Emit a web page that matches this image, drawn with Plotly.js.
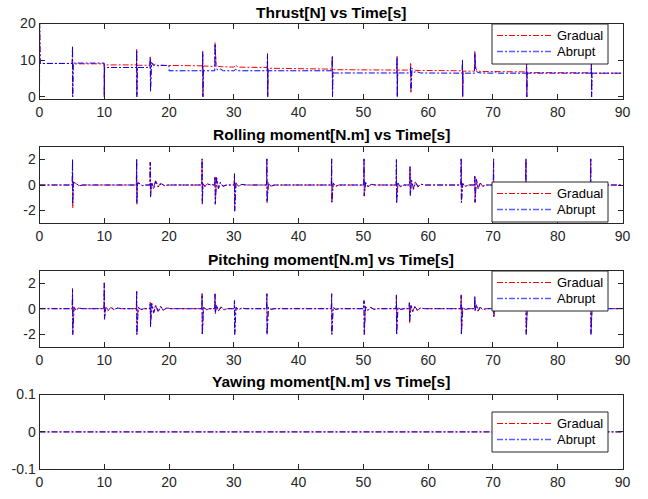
<!DOCTYPE html>
<html><head><meta charset="utf-8">
<script src="https://cdn.plot.ly/plotly-3.0.1.min.js"></script>
<style>html,body{margin:0;padding:0;background:#fff}#chart{width:648px;height:499px}</style>
</head><body><div id="chart"></div>
<script>
// ---------------- data ----------------
const seriesNames = ['Gradual', 'Abrupt'];
const panelTitles = ['Thrust[N] vs Time[s]', 'Rolling moment[N.m] vs Time[s]', 'Pitching moment[N.m] vs Time[s]', 'Yawing moment[N.m] vs Time[s]'];
const xTickVals = [0, 10, 20, 30, 40, 50, 60, 70, 80, 90];
const thrustTickVals = [0, 10, 20];
const thrustTickText = ['0', '10', '20'];
const momentTickVals = [-2, 0, 2];
const momentTickText = ['-2', '0', '2'];
const yawTickVals = [-0.1, 0, 0.1];
const yawTickText = ['-0.1', '0', '0.1'];

// Thrust - Gradual
const thrustGradT = [0,0.02,0.1, 5.05,5.1,5.12,5.2, 9.98,10.0,10.05, 14.98,15.0,15.03,15.1, 17.05,17.1,17.14,17.25,17.5,17.8, 25.15,25.2,25.23,25.3, 27.05,27.1,27.25,27.6,28.2, 30.0,30.3,30.6, 35.15,35.2,35.23,35.3, 45.15,45.2,45.23,45.3, 55.15,55.2,55.23,55.3, 57.25,57.3,57.34,57.45,57.7,58.1, 65.25,65.3,65.33,65.4, 67.15,67.2,67.35,67.7,68.2, 75.15,75.2,75.23,75.3, 85.15,85.2,85.23,85.3, 90];
const thrustGradY = [0,20,9.1, 9.1,13.8,0,9.0, 9.0,0,8.7, 8.7,13.0,0,8.6, 8.6,10.9,1.5,9.4,8.9,8.6, 8.45,12.5,0,8.4, 8.3,14.8,9.0,8.3,8.2, 8.1,8.7,8.1, 8.0,11.9,0,7.8, 7.55,11.2,0,7.4, 7.3,11.0,0,7.3, 7.3,9.1,1.2,7.8,7.5,7.2, 7.1,10.3,0,7.0, 7.0,12.5,7.6,7.0,6.9, 6.8,9.6,0,6.6, 6.55,9.3,0,6.45, 6.45];
// Thrust - Abrupt
const thrustAbrT = [0,0.02,0.1, 5.05,5.1,5.12,5.2, 9.98,10.0,10.05, 14.98,15.0,15.03,15.1, 17.05,17.1,17.14,17.3,17.6,17.9,18.3,18.7,19.99,20.0, 25.15,25.2,25.23,25.3, 27.05,27.1,27.25,27.5,27.9,28.4, 30.0,30.3,30.6, 35.15,35.2,35.23,35.3, 45.15,45.2,45.23,45.3, 55.15,55.2,55.23,55.3, 57.25,57.3,57.34,57.5,57.8,58.2,58.8, 65.25,65.3,65.33,65.4, 67.15,67.2,67.35,67.7,68.2, 70.0,70.3,70.6, 75.15,75.2,75.23,75.3, 85.15,85.2,85.23,85.3, 90];
const thrustAbrY = [0,20,9.1, 9.1,13.9,0,9.2, 9.2,0,8.0, 8.0,12.8,0,8.0, 8.0,10.8,1.6,9.3,8.5,8.9,8.4,8.6,8.5,7.1, 7.1,12.2,0,7.1, 7.1,14.5,8.0,7.3,7.6,7.1, 7.1,7.5,7.1, 7.1,11.6,0,7.1, 7.1,11.0,0,6.5, 6.5,10.8,0,6.5, 6.5,8.5,1.5,7.2,6.7,6.9,6.5, 6.45,10.0,0,6.45, 6.45,12.0,7.2,6.6,6.5, 6.45,6.9,6.45, 6.45,9.5,0,6.45, 6.45,9.2,0,6.45, 6.45];

// Rolling moment - Gradual
const rollGradT = [0, 5.05,5.1,5.13,5.2,5.4,5.7,6.0,6.5, 14.95,15.0,15.03,15.1,15.4,15.8,16.3, 17.05,17.1,17.14,17.3,17.6,17.9,18.3,18.7,19.2,19.8, 25.05,25.1,25.13,25.2,25.5,25.9,26.4, 27.05,27.1,27.14,27.3,27.6,27.9,28.3,28.8, 30.05,30.1,30.13,30.3,30.7,31.2,31.8, 35.05,35.1,35.13,35.3,35.7,36.2, 45.05,45.1,45.13,45.3,45.7,46.2, 50.05,50.1,50.13,50.3,50.7,51.2,51.7, 55.05,55.1,55.13,55.3,55.7,56.2, 57.15,57.2,57.24,57.4,57.7,58.0,58.4,58.9,59.5, 65.05,65.1,65.13,65.3,65.7,66.2, 67.15,67.2,67.24,67.4,67.7,68.0,68.4,68.9, 70.05,70.1,70.13,70.3, 75.05,75.1,75.13,75.3, 85.05,85.1,85.13,85.3, 90];
const rollGradY = [0, 0,2.05,-1.8,0.25,0.2,0.05,-0.05,0, 0,2.0,-1.5,0.2,0.15,-0.05,0, 0,1.8,-0.95,0.1,-0.3,0.35,-0.15,0.15,-0.05,0, 0,2.0,-1.5,0.1,-0.15,0.1,0, 0,0.7,-1.55,0.6,-0.3,0.2,-0.1,0, 0,0.9,-2.0,0.2,-0.1,0.05,0, 0,2.0,-1.4,0.2,-0.1,0, 0,2.0,-1.4,0.15,-0.1,0, 0,2.0,-0.9,0.2,-0.15,0.05,0, 0,1.95,-1.4,0.2,-0.15,0, 0,1.4,-0.85,0.4,-0.35,0.25,-0.15,0.05,0, 0,2.0,-1.4,0.15,-0.1,0, 0,0.7,-1.4,0.5,-0.3,0.2,-0.1,0, 0,2.0,-1.5,0, 0,2.0,-1.5,0, 0,2.0,-1.5,0, 0];
// Rolling moment - Abrupt
const rollAbrT = [0, 5.05,5.1,5.13,5.25,5.5,5.8,6.2,6.7, 14.95,15.0,15.03,15.15,15.5,15.9,16.4, 17.05,17.1,17.14,17.35,17.65,17.95,18.35,18.8,19.3,19.9, 25.05,25.1,25.13,25.25,25.55,26.0,26.5, 27.05,27.1,27.14,27.35,27.65,27.95,28.35,28.9, 30.05,30.1,30.13,30.35,30.75,31.25,31.9, 35.05,35.1,35.13,35.35,35.75,36.3, 45.05,45.1,45.13,45.35,45.75,46.3, 50.05,50.1,50.13,50.35,50.75,51.25,51.8, 55.05,55.1,55.13,55.35,55.75,56.3, 57.15,57.2,57.24,57.45,57.75,58.05,58.45,58.95,59.6, 65.05,65.1,65.13,65.35,65.75,66.3, 67.15,67.2,67.24,67.45,67.75,68.05,68.45,69.0, 70.05,70.1,70.13,70.3, 75.05,75.1,75.13,75.3, 85.05,85.1,85.13,85.3, 90];
const rollAbrY = [0, 0,2.0,-1.5,0.2,0.15,0.05,-0.05,0, 0,2.05,-1.45,0.15,0.1,-0.05,0, 0,1.75,-0.9,0.15,-0.25,0.3,-0.15,0.1,-0.05,0, 0,2.05,-1.45,0.1,-0.1,0.05,0, 0,0.65,-1.5,0.55,-0.25,0.2,-0.1,0, 0,0.85,-2.05,0.15,-0.1,0.05,0, 0,2.05,-1.35,0.15,-0.1,0, 0,2.05,-1.35,0.15,-0.1,0, 0,2.05,-0.85,0.2,-0.1,0.05,0, 0,2.0,-1.35,0.15,-0.1,0, 0,1.45,-0.8,0.35,-0.3,0.2,-0.1,0.05,0, 0,2.05,-1.35,0.1,-0.1,0, 0,0.65,-1.35,0.45,-0.25,0.15,-0.1,0, 0,2.05,-1.4,0, 0,2.05,-1.4,0, 0,2.05,-1.4,0, 0];

// Pitching moment - Gradual
const pitchGradT = [0, 5.05,5.1,5.13,5.3,5.6,6.0,6.6, 9.95,10.0,10.03,10.2,10.6,11.0,11.5,12.0,12.6, 14.95,15.0,15.03,15.2,15.6,16.1, 17.05,17.1,17.14,17.3,17.6,17.9,18.3,18.7,19.1,19.6,20.2, 25.05,25.1,25.13,25.3,25.7,26.2, 27.05,27.1,27.14,27.3,27.6,28.0,28.5,29.0, 30.05,30.1,30.13,30.3,30.7,31.2,31.8, 35.05,35.1,35.13,35.3,35.7,36.2, 45.05,45.1,45.13,45.3,45.7,46.2, 50.05,50.1,50.13,50.3,50.7,51.1,51.6,52.2, 55.05,55.1,55.13,55.3,55.7,56.2, 57.05,57.1,57.14,57.3,57.6,57.9,58.3,58.8,59.4, 65.05,65.1,65.13,65.3,65.7,66.2, 67.15,67.2,67.24,67.4,67.7,68.0,68.4,68.9, 70.05,70.1,70.13,70.3, 75.05,75.1,75.13,75.3, 85.05,85.1,85.13,85.3, 90];
const pitchGradY = [0, 0,1.6,-2.0,0.15,-0.1,0.05,0, 0,2.05,-0.85,0.1,-0.15,0.1,-0.1,0.05,0, 0,1.4,-2.0,0.1,-0.1,0, 0,0.5,-1.45,0.45,-0.35,0.3,-0.25,0.2,-0.15,0.1,0, 0,1.2,-2.0,0.1,-0.1,0, 0,1.2,-0.4,0.3,-0.2,0.15,-0.1,0, 0,0.6,-2.0,0.1,-0.1,0.05,0, 0,1.2,-2.0,0.1,-0.05,0, 0,1.2,-2.0,0.1,-0.05,0, 0,0.6,-2.0,0.2,-0.15,0.1,-0.05,0, 0,1.1,-2.0,0.1,-0.05,0, 0,0.5,-1.1,0.3,-0.25,0.2,-0.15,0.08,0, 0,1.1,-2.0,0.1,-0.05,0, 0,1.0,-0.2,0.35,-0.2,0.15,-0.1,0, 0,0.8,-0.65,0, 0,1.2,-2.0,0, 0,1.2,-2.0,0, 0];
// Pitching moment - Abrupt
const pitchAbrT = [0, 5.05,5.1,5.13,5.35,5.65,6.05,6.7, 9.95,10.0,10.03,10.25,10.65,11.05,11.55,12.05,12.7, 14.95,15.0,15.03,15.25,15.65,16.2, 17.05,17.1,17.14,17.35,17.65,17.95,18.35,18.75,19.15,19.65,20.3, 25.05,25.1,25.13,25.35,25.75,26.3, 27.05,27.1,27.14,27.35,27.65,28.05,28.55,29.1, 30.05,30.1,30.13,30.35,30.75,31.25,31.9, 35.05,35.1,35.13,35.35,35.75,36.3, 45.05,45.1,45.13,45.35,45.75,46.3, 50.05,50.1,50.13,50.35,50.75,51.15,51.65,52.3, 55.05,55.1,55.13,55.35,55.75,56.3, 57.05,57.1,57.14,57.35,57.65,57.95,58.35,58.85,59.5, 65.05,65.1,65.13,65.35,65.75,66.3, 67.15,67.2,67.24,67.45,67.75,68.05,68.45,69.0, 70.05,70.1,70.13,70.3, 75.05,75.1,75.13,75.3, 85.05,85.1,85.13,85.3, 90];
const pitchAbrY = [0, 0,1.5,-2.05,0.1,-0.1,0.05,0, 0,2.0,-0.8,0.1,-0.1,0.1,-0.05,0.05,0, 0,1.35,-2.05,0.1,-0.05,0, 0,0.45,-1.4,0.4,-0.3,0.25,-0.2,0.15,-0.1,0.05,0, 0,1.15,-2.05,0.1,-0.05,0, 0,1.15,-0.35,0.25,-0.15,0.1,-0.05,0, 0,0.65,-2.05,0.1,-0.05,0.05,0, 0,1.15,-2.05,0.1,-0.05,0, 0,1.15,-2.05,0.1,-0.05,0, 0,0.65,-2.05,0.15,-0.1,0.1,-0.05,0, 0,1.05,-2.05,0.1,-0.05,0, 0,0.45,-1.05,0.25,-0.2,0.15,-0.1,0.05,0, 0,1.05,-2.05,0.1,-0.05,0, 0,0.95,-0.15,0.3,-0.15,0.1,-0.05,0, 0,0.75,-0.6,0, 0,1.15,-2.05,0, 0,1.15,-2.05,0, 0];

// Yawing moment
const yawGradT = [0, 90];
const yawGradY = [0, 0];
const yawAbrT = [0, 90];
const yawAbrY = [0, 0];

// ---------------- styling ----------------
const FONT = 'Liberation Sans, Arial, Helvetica, sans-serif';
const AX = '#262626';
const RED = '#ff0000', BLUE = '#0000ff', BLUE_LEG = '#5c5cff';
const DASH = '6px,2px,2px,2px';
const W = 648, H = 499;
const xDom = [39.5 / W, 622.5 / W];
function yDom(top, bot) { return [1 - bot / H, 1 - top / H]; }
const px = v => v / W;
const py = v => 1 - v / H;

const panels = [
  {tG: thrustGradT, yG: thrustGradY, tA: thrustAbrT, yA: thrustAbrY, dom: yDom(23.5, 99), range: [-0.6, 20], tv: thrustTickVals, tt: thrustTickText, legTop: 24, titleY: 12},
  {tG: rollGradT, yG: rollGradY, tA: rollAbrT, yA: rollAbrY, dom: yDom(146.7, 223.3), range: [-3, 3], tv: momentTickVals, tt: momentTickText, legTop: 182, titleY: 135},
  {tG: pitchGradT, yG: pitchGradY, tA: pitchAbrT, yA: pitchAbrY, dom: yDom(270.7, 346.7), range: [-3, 3], tv: momentTickVals, tt: momentTickText, legTop: 271, titleY: 259},
  {tG: yawGradT, yG: yawGradY, tA: yawAbrT, yA: yawAbrY, dom: yDom(394.5, 469.3), range: [-0.1, 0.1], tv: yawTickVals, tt: yawTickText, legTop: 412, titleY: 381}
];

const data = [];
const layout = {
  width: W, height: H,
  margin: {l: 0, r: 0, t: 0, b: 0},
  paper_bgcolor: '#fff', plot_bgcolor: '#fff',
  showlegend: false,
  font: {family: FONT, color: AX},
  annotations: [],
  shapes: []
};

// legend box geometry (px)
const LEG_L = 492, LEG_R = 608, LEG_H = 40;
const SAMPLE_L = 497, SAMPLE_R = 551, TEXT_X = 555;
const ROW1 = 11.5, ROW2 = 27.5;

panels.forEach((p, i) => {
  const n = i + 1;
  const sx = n === 1 ? '' : String(n);
  data.push({x: p.tG, y: p.yG, type: 'scatter', mode: 'lines', name: seriesNames[0],
    xaxis: 'x' + sx, yaxis: 'y' + sx,
    line: {color: RED, width: 1, dash: DASH}});
  data.push({x: p.tA, y: p.yA, type: 'scatter', mode: 'lines', name: seriesNames[1],
    xaxis: 'x' + sx, yaxis: 'y' + sx,
    line: {color: BLUE, width: 1, dash: DASH}});
  layout['xaxis' + sx] = {
    domain: xDom, range: [0, 90], anchor: 'y' + sx,
    tickmode: 'array', tickvals: xTickVals,
    ticks: 'inside', ticklen: 5, tickcolor: AX, tickwidth: 1,
    showline: true, linecolor: AX, linewidth: 1, mirror: 'ticks',
    showgrid: false, zeroline: false,
    tickfont: {family: FONT, size: 14, color: AX}
  };
  layout['yaxis' + sx] = {
    domain: p.dom, range: p.range, anchor: 'x' + sx,
    tickmode: 'array', tickvals: p.tv, ticktext: p.tt,
    ticks: 'inside', ticklen: 5, tickcolor: AX, tickwidth: 1,
    showline: true, linecolor: AX, linewidth: 1, mirror: 'ticks',
    showgrid: false, zeroline: false,
    tickfont: {family: FONT, size: 14, color: AX}
  };
  // title
  layout.annotations.push({
    text: '<b>' + panelTitles[i] + '</b>', xref: 'paper', yref: 'paper',
    x: (xDom[0] + xDom[1]) / 2, y: py(p.titleY), xanchor: 'center', yanchor: 'middle',
    showarrow: false, font: {family: FONT, size: 15.5, color: '#000'}
  });
  // legend box
  const top = p.legTop;
  layout.shapes.push({type: 'rect', xref: 'paper', yref: 'paper', layer: 'above',
    x0: px(LEG_L), x1: px(LEG_R), y0: py(top), y1: py(top + LEG_H),
    fillcolor: '#ffffff', line: {color: AX, width: 1}});
  [[RED, 1, ROW1, seriesNames[0]], [BLUE_LEG, 1.6, ROW2, seriesNames[1]]].forEach(([c, w, r, name]) => {
    layout.shapes.push({type: 'line', xref: 'paper', yref: 'paper', layer: 'above',
      x0: px(SAMPLE_L), x1: px(SAMPLE_R), y0: py(top + r), y1: py(top + r),
      line: {color: c, width: w, dash: DASH}});
    layout.annotations.push({text: name, xref: 'paper', yref: 'paper',
      x: px(TEXT_X), y: py(top + r), xanchor: 'left', yanchor: 'middle',
      showarrow: false, font: {family: FONT, size: 13, color: '#000'}});
  });
});

Plotly.newPlot('chart', data, layout, {displayModeBar: false, staticPlot: true});
</script></body></html>
